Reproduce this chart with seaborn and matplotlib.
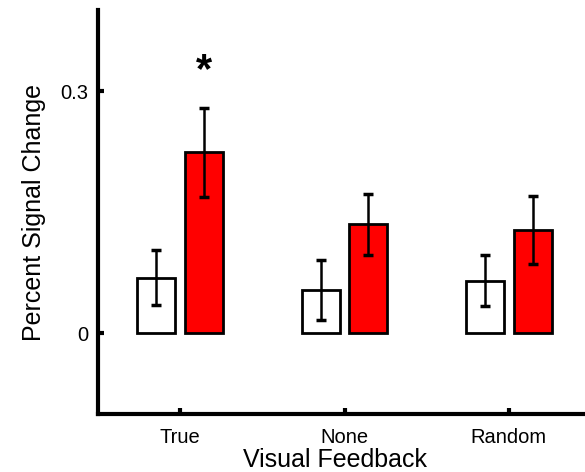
import numpy as np
import pandas as pd
import seaborn as sns
import matplotlib.pyplot as plt

# values
feedback = ['True', 'None', 'Random']
conditions = ['control', 'active']
control_mean = [0.069, 0.0535, 0.065]
control_err = [0.0345, 0.0375, 0.0315]
active_mean = [0.224, 0.135, 0.128]
active_err = [0.055, 0.038, 0.042]
star_y = 0.325

df = pd.DataFrame({
    'feedback': feedback * 2,
    'cond': [conditions[0]] * 3 + [conditions[1]] * 3,
    'psc': control_mean + active_mean,
    'err': control_err + active_err,
})

sns.set_style('white')
plt.rcParams['font.family'] = ['Liberation Sans', 'DejaVu Sans']
plt.rcParams['text.color'] = 'black'
plt.rcParams['axes.labelcolor'] = 'black'

fig = plt.figure(figsize=(5.85, 4.72), dpi=100)
ax = fig.add_axes([0.1675, 0.123, 0.84, 0.855])

sns.barplot(data=df, x='feedback', y='psc', hue='cond', order=feedback,
            hue_order=conditions, palette=['white', '#ff0000'], saturation=1,
            edgecolor='black', linewidth=2, width=0.58, gap=0.2,
            errorbar=None, legend=False, ax=ax)

# error bars at the centre of each bar
for cont, cond in zip(ax.containers, conditions):
    sub = df[df['cond'] == cond].set_index('feedback').loc[feedback]
    xs = [p.get_x() + p.get_width() / 2 for p in cont.patches]
    ax.errorbar(xs, sub['psc'], yerr=sub['err'], fmt='none', ecolor='black',
                elinewidth=1.8, capsize=3.5, capthick=2.5, zorder=5)

# significance marker above the True/active bar
star_bar = ax.containers[1].patches[0]
ax.text(star_bar.get_x() + star_bar.get_width() / 2, star_y, '*', ha='center',
        va='center', fontsize=30, fontweight='bold', color='black')

ax.set_ylim(-0.1, 0.4)
ax.set_xlim(-0.5, 2.49)
ax.set_yticks([0, 0.3])
ax.set_yticklabels(['0', '0.3'])
ax.set_ylabel('Percent Signal Change', fontsize=18, labelpad=10)
ax.set_xlabel('Visual Feedback', fontsize=18)
ax.xaxis.set_label_coords(0.483, -0.085)
ax.tick_params(axis='both', direction='in', length=4, width=3, labelsize=14.5,
               bottom=True, left=True, colors='black')
ax.tick_params(axis='x', pad=10)
ax.tick_params(axis='y', pad=7)
sns.despine(ax=ax, top=True, right=True)
for s in ['left', 'bottom']:
    ax.spines[s].set_linewidth(3)
    ax.spines[s].set_color('black')

fig.savefig('out.png', dpi=100)
